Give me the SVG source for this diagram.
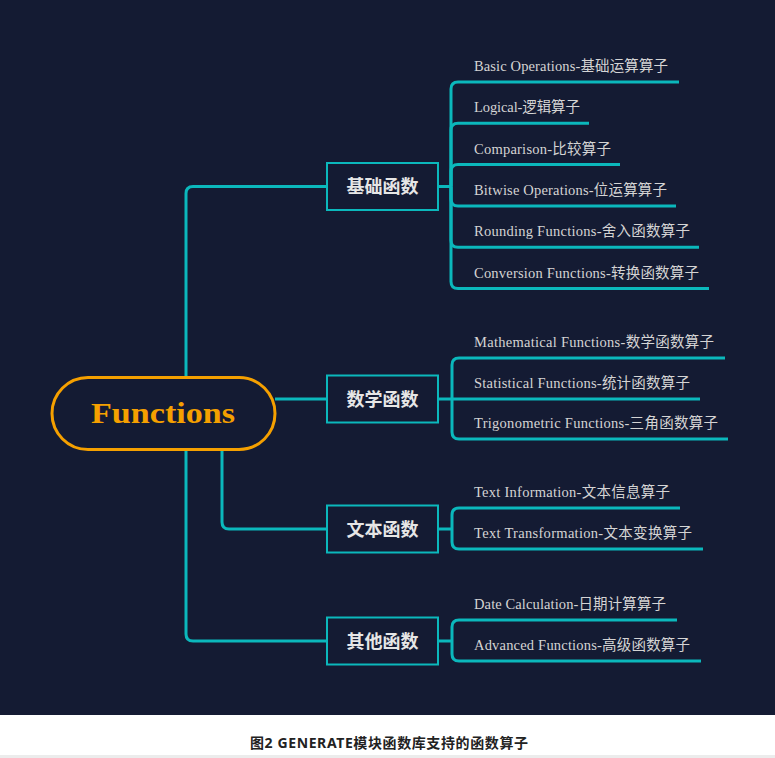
<svg xmlns="http://www.w3.org/2000/svg" width="775" height="758" viewBox="0 0 775 758">
<style>
.bg{fill:#141b33}
.ln{fill:none;stroke:#0bb8bc;stroke-width:3;stroke-linecap:butt;stroke-linejoin:round}
.box{fill:#141b33;stroke:#0bb8bc;stroke-width:2}
.lbl{font-family:"Noto Sans CJK SC","Noto Sans",sans-serif;font-weight:bold;font-size:18px;fill:#e6e6e6;text-anchor:middle}
.leaf{font-family:"Liberation Serif","Noto Sans CJK SC",serif;font-size:14.5px;fill:#d4d4d4}
.root{font-family:"Liberation Serif",serif;font-weight:bold;font-size:29px;fill:#f5a000;text-anchor:middle}
.cap{font-family:"Noto Sans","Noto Sans CJK SC",sans-serif;font-weight:bold;font-size:14px;fill:#222;text-anchor:middle}
</style>
<rect x="0" y="0" width="775" height="758" fill="#ffffff"/>
<rect class="bg" x="0" y="0" width="775" height="715"/>
<rect x="0" y="755" width="775" height="3" fill="#ececec"/>

<g id="connectors">
  <path class="ln" d="M327,186.5 H193 Q186,186.5 186,193.5 V634 Q186,641 193,641 H327"/>
  <path class="ln" d="M275,399 H327"/>
  <path class="ln" d="M222,450 V522 Q222,529 229,529 H327"/>
  <!-- 基础函数 leaves -->
  <path class="ln" d="M438,186.5 H451"/>
  <path class="ln" d="M451,186.5 V89 Q451,82 458,82 H679"/>
  <path class="ln" d="M451,186.5 V130.3 Q451,123.3 458,123.3 H589"/>
  <path class="ln" d="M451,186.5 V171.6 Q451,164.6 458,164.6 H620"/>
  <path class="ln" d="M451,186.5 V198.9 Q451,205.9 458,205.9 H676"/>
  <path class="ln" d="M451,186.5 V240.2 Q451,247.2 458,247.2 H699"/>
  <path class="ln" d="M451,186.5 V281.5 Q451,288.5 458,288.5 H709"/>
  <!-- 数学函数 leaves -->
  <path class="ln" d="M438,399 H700"/>
  <path class="ln" d="M452,399 V365 Q452,358 459,358 H725"/>
  <path class="ln" d="M452,399 V432 Q452,439 459,439 H728"/>
  <!-- 文本函数 leaves -->
  <path class="ln" d="M439,529 H452"/>
  <path class="ln" d="M452,529 V515 Q452,508 459,508 H680"/>
  <path class="ln" d="M452,529 V542 Q452,549 459,549 H703"/>
  <!-- 其他函数 leaves -->
  <path class="ln" d="M439,641 H452"/>
  <path class="ln" d="M452,641 V627 Q452,620 459,620 H677"/>
  <path class="ln" d="M452,641 V654 Q452,661 459,661 H701"/>
</g>

<g id="root">
  <rect x="52" y="377.5" width="223" height="72" rx="36" ry="36" fill="#141b33" stroke="#f5a000" stroke-width="3"/>
  <text class="root" x="163" y="422.5" textLength="144" lengthAdjust="spacingAndGlyphs">Functions</text>
</g>

<g id="n-basic">
  <rect class="box" x="327" y="163" width="111" height="47"/>
  <text class="lbl" x="382.5" y="193">基础函数</text>
</g>
<g id="n-math">
  <rect class="box" x="327" y="375.5" width="111" height="47"/>
  <text class="lbl" x="382.5" y="405.5">数学函数</text>
</g>
<g id="n-text">
  <rect class="box" x="327" y="505.5" width="111" height="47"/>
  <text class="lbl" x="382.5" y="535.5">文本函数</text>
</g>
<g id="n-other">
  <rect class="box" x="327" y="617.5" width="111" height="47"/>
  <text class="lbl" x="382.5" y="647.5">其他函数</text>
</g>

<g id="l-basic-ops"><text class="leaf" x="474" y="71" textLength="194">Basic Operations-基础运算算子</text></g>
<g id="l-logical"><text class="leaf" x="474" y="112.3" textLength="106">Logical-逻辑算子</text></g>
<g id="l-comparison"><text class="leaf" x="474" y="153.6" textLength="137">Comparison-比较算子</text></g>
<g id="l-bitwise"><text class="leaf" x="474" y="194.9" textLength="193">Bitwise Operations-位运算算子</text></g>
<g id="l-rounding"><text class="leaf" x="474" y="236.2" textLength="216">Rounding Functions-舍入函数算子</text></g>
<g id="l-conversion"><text class="leaf" x="474" y="277.5" textLength="225">Conversion Functions-转换函数算子</text></g>
<g id="l-mathematical"><text class="leaf" x="474" y="347" textLength="240">Mathematical Functions-数学函数算子</text></g>
<g id="l-statistical"><text class="leaf" x="474" y="388" textLength="216">Statistical Functions-统计函数算子</text></g>
<g id="l-trig"><text class="leaf" x="474" y="428" textLength="244">Trigonometric Functions-三角函数算子</text></g>
<g id="l-textinfo"><text class="leaf" x="474" y="497" textLength="196">Text Information-文本信息算子</text></g>
<g id="l-texttrans"><text class="leaf" x="474" y="538" textLength="218">Text Transformation-文本变换算子</text></g>
<g id="l-date"><text class="leaf" x="474" y="609" textLength="192">Date Calculation-日期计算算子</text></g>
<g id="l-advanced"><text class="leaf" x="474" y="650" textLength="216">Advanced Functions-高级函数算子</text></g>

<text class="cap" x="389" y="748" textLength="278">图2 GENERATE模块函数库支持的函数算子</text>
</svg>
